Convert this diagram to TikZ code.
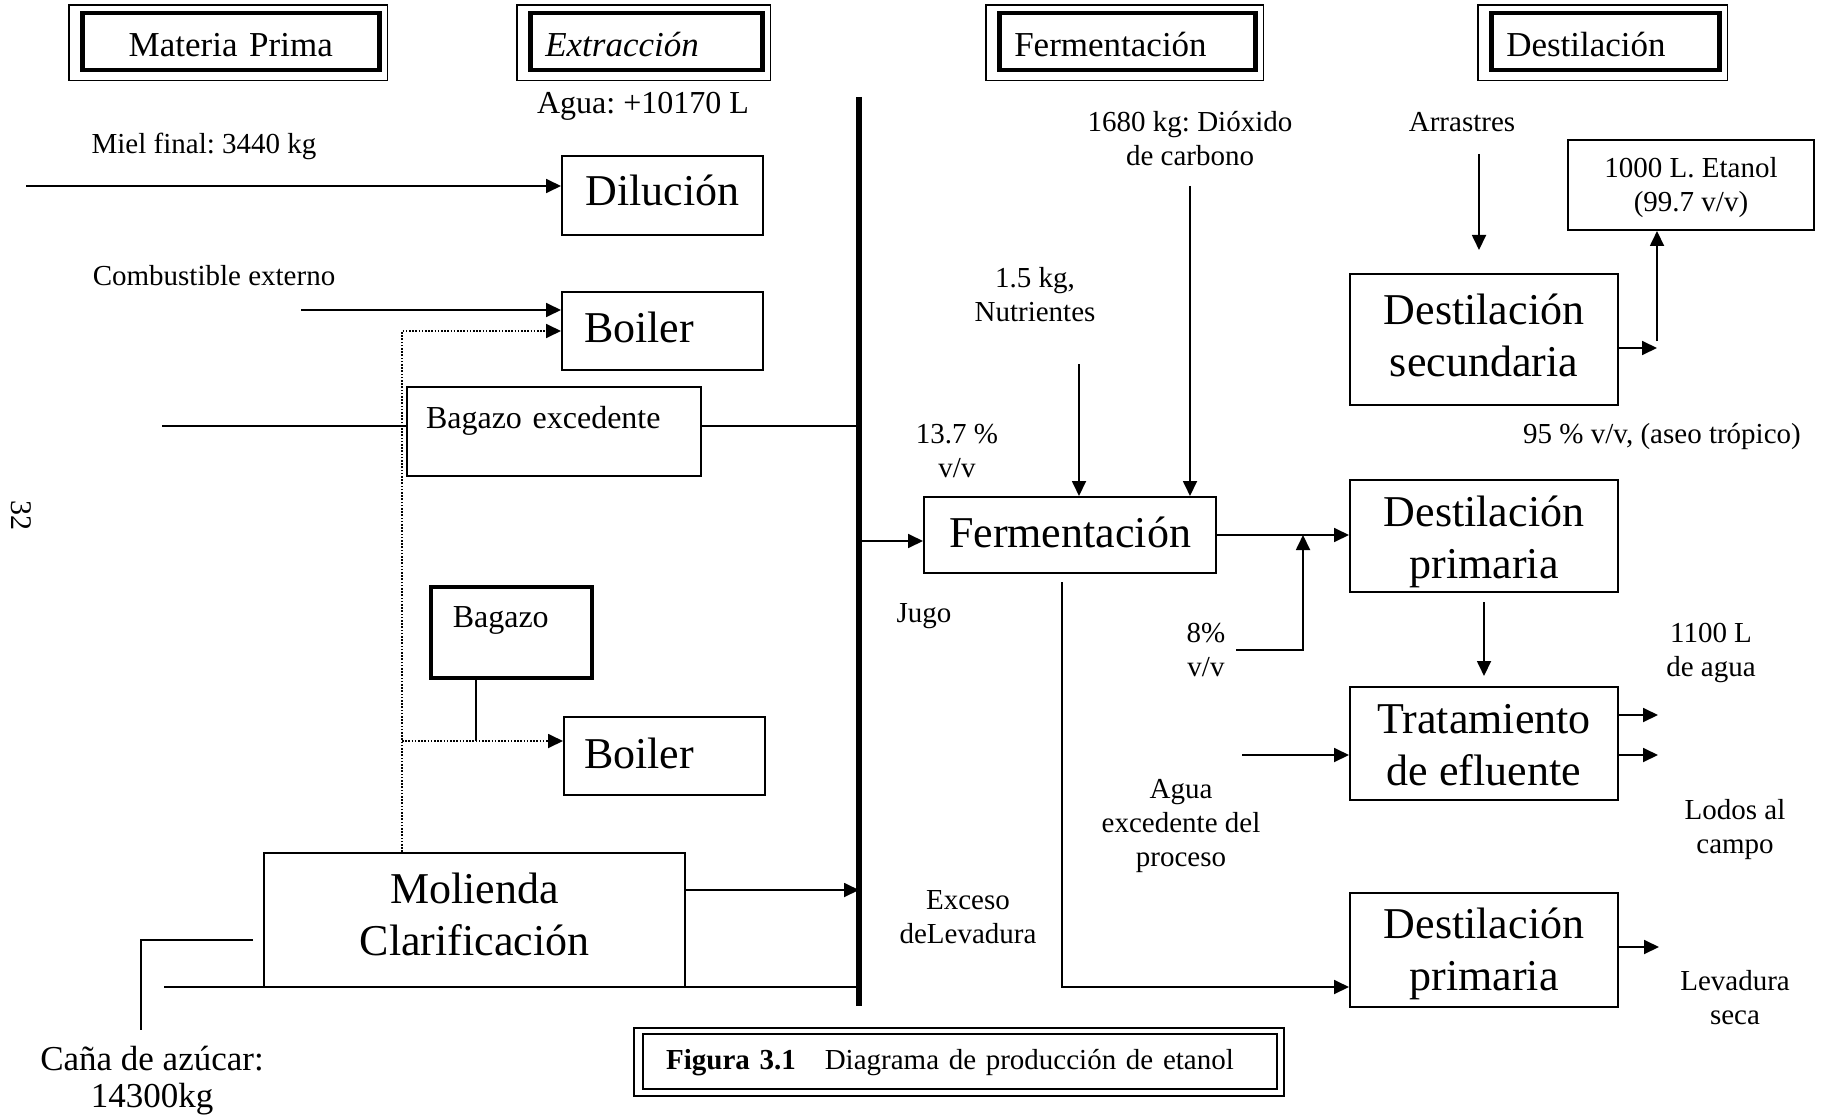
\documentclass[tikz,border=0pt]{standalone}
\usepackage{fontspec}
\setmainfont{Liberation Serif}
\usetikzlibrary{arrows.meta,calc}
\frenchspacing
\newcommand{\fslbl}{\fontsize{29}{34}\selectfont}
\newcommand{\fsbag}{\fontsize{32}{36}\selectfont}
\newcommand{\fsbox}{\fontsize{44}{52}\selectfont}
\newcommand{\fshdr}{\fontsize{35}{40}\selectfont}
\newcommand{\hdrbox}[4]{\node[hdr,#2] (#1) at (#3) {#4};
  \draw[line width=1.4pt] ($(#1.north west)+(-11,-6)$) rectangle ($(#1.south east)+(6,8)$);}
\tikzset{
  box/.style={draw, line width=2pt, inner sep=0pt, align=center, font=\fsbox, anchor=north west},
  hdr/.style={draw, line width=4.5pt, inner ysep=0pt, inner xsep=15pt, align=left, font=\fshdr,
    anchor=north west, text height=43pt, text depth=14pt},
  lbl/.style={font=\fslbl, align=center, inner sep=0pt, anchor=base},
  flow/.style={line width=1.8pt, -{Triangle[length=15pt,width=14pt]}},
  wire/.style={line width=1.8pt},
  dots/.style={line width=1.6pt, dash pattern=on 1.6pt off 1.6pt},
  thickbar/.style={line width=6pt}
}
\begin{document}
\begin{tikzpicture}[x=1pt,y=-1pt]
\path[use as bounding box, fill=white] (0,0) rectangle (1822,1115);

% encabezados
\hdrbox{hmp}{text width=267pt, align=center}{80,11}{Materia Prima}
\hdrbox{hext}{text width=202pt}{528,11}{\textit{Extracción}}
\hdrbox{hfer}{text width=226pt}{997,11}{Fermentación}
\hdrbox{hdes}{text width=198pt}{1489,11}{Destilación}

% bloques
\node[box, minimum width=201pt, text height=50pt, text depth=29pt] (dil) at (561,155) {Dilución};
\node[box, align=left, inner xsep=22pt, text width=157pt, text height=50pt, text depth=28pt] (boila) at (561,291) {Boiler};
\node[box, font=\fsbag, align=left, inner xsep=19pt, text width=256pt, text height=41pt, text depth=48pt] (bagex) at (406,386) {Bagazo excedente};
\node[box, line width=3.5pt, font=\fsbag, align=left, inner xsep=22pt, text width=117pt, text height=41pt, text depth=50pt] (bag) at (429,585) {Bagazo};
\node[box, align=left, inner xsep=20pt, text width=161pt, text height=51pt, text depth=27pt] (boilb) at (563,716) {Boiler};
\node[box, minimum width=421pt, text height=102pt, text depth=32pt] (mol) at (263,852) {Molienda\\Clarificación};
\node[box, minimum width=292pt, text height=50pt, text depth=26pt] (ferm) at (923,496) {Fermentación};
\node[box, minimum width=268pt, text height=102pt, text depth=29pt] (dsec) at (1349,273) {Destilación\\secundaria};
\node[box, font=\fslbl, minimum width=246pt, text height=72pt, text depth=18pt] (etanol) at (1567,139) {1000 L. Etanol\\(99.7 v/v)};
\node[box, minimum width=268pt, text height=98pt, text depth=14pt] (dpri) at (1349,479) {Destilación\\primaria};
\node[box, minimum width=268pt, text height=98pt, text depth=15pt] (trat) at (1349,686) {Tratamiento\\de efluente};
\node[box, minimum width=268pt, text height=97pt, text depth=17pt] (dprb) at (1349,892) {Destilación\\primaria};

% textos
\node[lbl, font=\fsbag] (agua) at (643,114) {Agua: +10170 L};
\node[lbl] (miel) at (204,154) {Miel final: 3440 kg};
\node[lbl] (combus) at (214,286) {Combustible externo};
\node[lbl] (dioxido) at (1190,166) {1680 kg: Dióxido\\de carbono};
\node[lbl] (arras) at (1462,132) {Arrastres};
\node[lbl] (nutri) at (1035,321) {1.5 kg,\\Nutrientes};
\node[lbl] (grado) at (957,477) {13.7 \%\\v/v};
\node[lbl] (jugo) at (924,622) {Jugo};
\node[lbl] (aseo) at (1662,443) {95 \% v/v, (aseo trópico)};
\node[lbl] (ocho) at (1206,676) {8\%\\v/v};
\node[lbl] (aguasal) at (1711,676) {1100 L\\de agua};
\node[lbl] (aguaex) at (1181,866) {Agua\\excedente del\\proceso};
\node[lbl] (lodos) at (1735,853) {Lodos al\\campo};
\node[lbl] (exceso) at (968,943) {Exceso\\deLevadura};
\node[lbl] (levseca) at (1735,1024) {Levadura\\seca};
\node[lbl, font=\fontsize{35}{37}\selectfont] (cana) at (152,1107) {Caña de azúcar:\\14300kg};
\node[font=\fontsize{30}{30}\selectfont, rotate=-90] (pag) at (21,515) {32};

% pie
\node[box, font=\fslbl, align=left, inner xsep=23pt, text width=588pt, text height=35pt, text depth=20pt, line width=2.2pt] (cap) at (642,1033) {\textbf{Figura 3.1}\quad Diagrama de producción de etanol};
\draw[line width=2.2pt] ($(cap.north west)+(-8,-5)$) rectangle ($(cap.south east)+(6,6)$);

% lineas
\coordinate (btop) at (859,97);
\coordinate (bbot) at (859,1006);
\draw[thickbar] (btop) -- (bbot);

\coordinate (pmiel) at (26,186);
\draw[flow] (pmiel) -- (pmiel -| dil.west);
\coordinate (pcomb) at (301,310);
\draw[flow] (pcomb) -- (pcomb -| boila.west);
\coordinate (pdota) at (402,852);
\draw[dots, flow] (pdota) |- (boila.west);
\coordinate (pdotb) at (402,741);
\draw[dots, flow] (pdotb) -- (pdotb -| boilb.west);
\coordinate (pbag) at (476,741);
\draw[wire] (pbag |- bag.south) -- (pbag);
\coordinate (pbex) at (162,426);
\draw[wire] (pbex) -- (pbex -| bagex.west);
\draw[wire] (pbex -| bagex.east) -- (pbex -| btop);
\coordinate (pmol) at (859,890);
\draw[flow] (pmol -| mol.east) -- (pmol);
\coordinate (pcana) at (164,987);
\draw[wire] (pcana) -- (pcana -| btop);
\coordinate (pcin) at (253,940);
\coordinate (pcbot) at (141,1030);
\draw[wire] (pcin) -| (pcbot);

\coordinate (pjugo) at (859,541);
\draw[flow] (pjugo) -- (pjugo -| ferm.west);
\coordinate (pnut) at (1079,364);
\draw[flow] (pnut) -- (pnut |- ferm.north);
\coordinate (pco) at (1190,186);
\draw[flow] (pco) -- (pco |- ferm.north);
\draw[flow] (ferm.east) -- (ferm.east -| dpri.west);
\coordinate (pocho) at (1236,650);
\coordinate (pochx) at (1303,650);
\draw[flow] (pocho) -- (pochx) -- (pochx |- ferm.east);
\coordinate (plev) at (1062,582);
\coordinate (plevy) at (0,987);
\draw[flow] (plev) |- (plevy -| dprb.west);

\coordinate (parr) at (1479,154);
\draw[flow] (parr) -- ++(0,96);
\coordinate (pet) at (1657,348);
\draw[flow] (pet -| dsec.east) -- (pet);
\coordinate (petup) at (1657,341);
\draw[flow] (petup) -- (petup |- etanol.south);
\draw[flow] ([yshift=-9pt]dpri.south) -- ([yshift=10pt]trat.north);
\coordinate (paex) at (1242,755);
\draw[flow] (paex) -- (paex -| trat.west);
\foreach \yy in {715,755}
  \draw[flow] (trat.east |- 0,\yy) -- ++(39,0);
\draw[flow] (dprb.east |- 0,947) -- ++(40,0);
\end{tikzpicture}
\end{document}
